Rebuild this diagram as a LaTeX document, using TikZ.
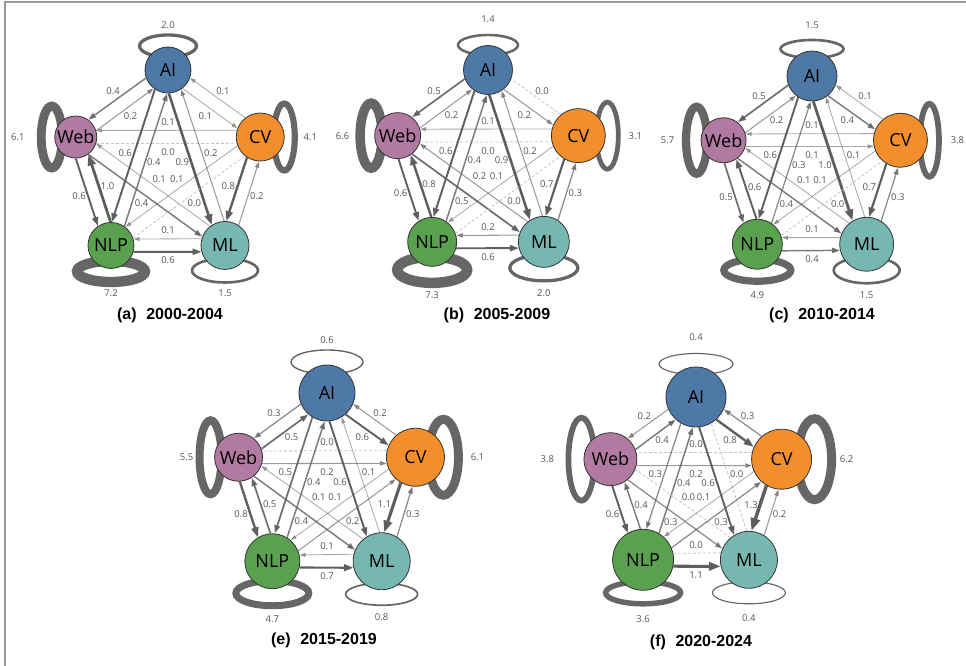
\documentclass[tikz,border=0pt]{standalone}
\usepackage{fontspec}
\setmainfont{Open Sans}
\newfontfamily\capfont{Liberation Sans}
\usetikzlibrary{calc,arrows.meta}
\pgfdeclarelayer{bg}
\pgfsetlayers{bg,main}
\definecolor{cAI}{HTML}{4E79A7}
\definecolor{cWeb}{HTML}{B07AA1}
\definecolor{cCV}{HTML}{F28E2B}
\definecolor{cNLP}{HTML}{59A14F}
\definecolor{cML}{HTML}{76B7B2}
\definecolor{egray}{HTML}{5E5E5E}
\definecolor{lgray}{HTML}{666666}
\definecolor{tgray}{HTML}{555555}
\definecolor{bgray}{HTML}{999999}
\definecolor{zgray}{HTML}{C4C4C4}
\tikzset{
  nd/.style={circle, draw=black!80, line width=0.8pt, inner sep=0pt,
    font=\fontsize{18}{18}\selectfont, text=black},
  edgeline/.style={draw=egray, -{Triangle[length=3.9pt 2.6, width=2.4pt 1.95]}},
  zeroedge/.style={draw=zgray, dash pattern=on 3pt off 2pt, line width=0.8pt},
  elab/.style={font=\fontsize{9.5}{9.5}\selectfont, text=tgray, inner sep=0pt},
  loopline/.style={draw=lgray},
  captext/.style={font=\capfont\bfseries\fontsize{16}{16}\selectfont, text=black}
}
\newcommand\mknode[5]{%
  \expandafter\def\csname r@#1\endcsname{#3}%
  \node[nd, fill=#4, minimum size={2*#3}] (#1) at (#2) {#5};}
\newcommand\dedge[3]{%
  \pgfmathsetmacro\elw{0.6+2.2*#3}%
  \pgfmathsetmacro\eop{min(1,0.45+0.9*#3)}%
  \pgfmathsetmacro\oa{asin(6.5/\csname r@#1\endcsname)}%
  \pgfmathsetmacro\ob{asin(6.5/\csname r@#2\endcsname)}%
  \ifdim #3pt=0pt
    \draw[zeroedge] let \p1=($(#2)-(#1)$), \n1={atan2(\y1,\x1)},
      \n2={\n1-\oa}, \n3={\n1+180+\ob} in (#1.\n2) -- (#2.\n3);
  \else
    \draw[edgeline, line width=\elw pt, opacity=\eop] let \p1=($(#2)-(#1)$),
      \n1={atan2(\y1,\x1)}, \n2={\n1-\oa}, \n3={\n1+180+\ob} in (#1.\n2) -- (#2.\n3);
  \fi
  \node[elab] at ($(#1)!0.5!(#2)!15pt!-90:(#2)$) {#3};}
\newcommand\selfloop[7]{%
  \pgfmathsetmacro\llw{0.6+1.35*#6}%
  \begin{pgfonlayer}{bg}
    \draw[loopline, line width=\llw pt] ($(#1)+(#2:#3)$) ellipse [x radius=#4, y radius=#5];
  \end{pgfonlayer}
  \node[elab] at ($(#1)+(#2:#7)$) {#6};}
\newcommand\edgesof[2]{\foreach \s/\t/\v in {#2} {\dedge{#1-\s}{#1-\t}{\v}}}
\newcommand\fivenodes[8]{% prefix, cx, cy, R, rAI, rWeb, rCV, rNLP ; rML via \rml
  \mknode{#1-AI}{$(#2,#3)+(90:#4)$}{#5}{cAI}{AI}
  \mknode{#1-Web}{$(#2,#3)+(162:#4)$}{#6}{cWeb}{Web}
  \mknode{#1-CV}{$(#2,#3)+(18:#4)$}{#7}{cCV}{CV}
  \mknode{#1-NLP}{$(#2,#3)+(234:#4)$}{#8}{cNLP}{NLP}
  \mknode{#1-ML}{$(#2,#3)+(306:#4)$}{\rml}{cML}{ML}}
\begin{document}
\begin{tikzpicture}[x=1pt,y=1pt]
\useasboundingbox (0,0) rectangle (966,666);
\draw[bgray, line width=1.2pt] (5,0) -- (5,664) -- (966,664);

% ---------- (a) 2000-2004 ----------
\def\rml{24}
\fivenodes{a}{168}{499}{97}{23}{21}{24}{23}
\selfloop{a-AI}{90}{24}{28.5}{11}{2.0}{45}
\selfloop{a-Web}{180}{24}{10.5}{31}{6.1}{58}
\selfloop{a-CV}{0}{24}{10.5}{33.5}{4.1}{50}
\selfloop{a-NLP}{270}{26}{34}{10.5}{7.2}{48}
\selfloop{a-ML}{270}{25}{33}{12}{1.5}{48}
\edgesof{a}{AI/Web/0.4, Web/AI/0.2, CV/AI/0.1, AI/CV/0.1, CV/Web/0.1, Web/CV/0.0,
  AI/NLP/0.6, NLP/AI/0.4, AI/ML/0.9, ML/AI/0.2, ML/Web/0.1, Web/ML/0.4,
  CV/NLP/0.1, NLP/CV/0.0, Web/NLP/0.6, NLP/Web/1.0, ML/NLP/0.1, NLP/ML/0.6,
  CV/ML/0.8, ML/CV/0.2}
\node[captext] (capa) at (170,351) {(a)\hspace{0.6em}2000-2004};

% ---------- (b) 2005-2009 ----------
\def\rml{25.5}
\fivenodes{b}{488}{501}{95}{24.5}{23}{27}{24.5}
\selfloop{b-AI}{90}{25}{30}{10}{1.4}{51}
\selfloop{b-Web}{180}{26.5}{11}{32.5}{6.6}{55}
\selfloop{b-CV}{0}{29}{11}{33.5}{3.1}{57}
\selfloop{b-NLP}{270}{28}{35}{13}{7.3}{53}
\selfloop{b-ML}{270}{26}{34}{13}{2.0}{51}
\edgesof{b}{AI/Web/0.5, Web/AI/0.2, CV/AI/0.0, AI/CV/0.2, CV/Web/0.1, Web/CV/0.0,
  AI/NLP/0.6, NLP/AI/0.4, AI/ML/0.9, ML/AI/0.2, ML/Web/0.2, Web/ML/0.5,
  CV/NLP/0.1, NLP/CV/0.0, Web/NLP/0.6, NLP/Web/0.8, ML/NLP/0.2, NLP/ML/0.6,
  CV/ML/0.7, ML/CV/0.3}
\node[captext] (capb) at (497,351) {(b)\hspace{0.6em}2005-2009};

% ---------- (c) 2010-2014 ----------
\def\rml{27}
\fivenodes{c}{812}{497}{93}{25}{22.5}{27}{25}
\selfloop{c-AI}{90}{27}{31.5}{9}{1.5}{51}
\selfloop{c-Web}{180}{27}{10.5}{33.5}{5.7}{56}
\selfloop{c-CV}{0}{29}{9.5}{36.5}{3.8}{57}
\selfloop{c-NLP}{270}{26}{33.5}{11}{4.9}{51}
\selfloop{c-ML}{270}{26}{33}{13}{1.5}{51}
\edgesof{c}{AI/Web/0.5, Web/AI/0.2, CV/AI/0.1, AI/CV/0.4, CV/Web/0.1, Web/CV/0.1,
  AI/NLP/0.6, NLP/AI/0.3, AI/ML/1.0, ML/AI/0.1, ML/Web/0.1, Web/ML/0.4,
  CV/NLP/0.1, NLP/CV/0.0, Web/NLP/0.5, NLP/Web/0.6, ML/NLP/0.1, NLP/ML/0.4,
  CV/ML/0.7, ML/CV/0.3}
\node[captext] (capc) at (822,351) {(c)\hspace{0.6em}2010-2014};

% ---------- (e) 2015-2019 ----------
\def\rml{28.5}
\fivenodes{e}{327}{180}{93}{28}{24}{29}{27.5}
\selfloop{e-AI}{90}{31}{36}{12}{0.6}{53}
\selfloop{e-Web}{180}{28}{11}{37}{5.5}{52}
\selfloop{e-CV}{0}{28}{15}{38}{6.1}{62}
\selfloop{e-NLP}{270}{32}{36.5}{12.5}{4.7}{58}
\selfloop{e-ML}{270}{33}{36}{11}{0.8}{56}
\edgesof{e}{AI/Web/0.3, Web/AI/0.5, CV/AI/0.2, AI/CV/0.6, CV/Web/0.0, Web/CV/0.2,
  AI/NLP/0.5, NLP/AI/0.4, AI/ML/0.6, ML/AI/0.1, ML/Web/0.1, Web/ML/0.4,
  CV/NLP/0.1, NLP/CV/0.2, Web/NLP/0.8, NLP/Web/0.5, ML/NLP/0.1, NLP/ML/0.7,
  CV/ML/1.1, ML/CV/0.3}
\node[captext] (cape) at (324,26) {(e)\hspace{0.6em}2015-2019};

% ---------- (f) 2020-2024 ----------
\def\rml{28.5}
\fivenodes{f}{696}{179}{90}{30}{26.5}{30}{30.5}
\selfloop{f-AI}{90}{33}{37}{10.5}{0.4}{60}
\selfloop{f-Web}{180}{29}{13}{41.5}{3.8}{63}
\selfloop{f-CV}{0}{33}{17}{40.5}{6.2}{65}
\selfloop{f-NLP}{270}{33}{37.5}{11}{3.6}{59}
\selfloop{f-ML}{270}{33}{36.5}{11}{0.4}{58}
\edgesof{f}{AI/Web/0.2, Web/AI/0.4, CV/AI/0.3, AI/CV/0.8, CV/Web/0.0, Web/CV/0.2,
  AI/NLP/0.3, NLP/AI/0.4, AI/ML/0.6, ML/AI/0.0, ML/Web/0.0, Web/ML/0.3,
  CV/NLP/0.1, NLP/CV/0.3, Web/NLP/0.6, NLP/Web/0.4, ML/NLP/0.0, NLP/ML/1.1,
  CV/ML/1.3, ML/CV/0.2}
\node[captext] (capf) at (701,24) {(f)\hspace{0.6em}2020-2024};
\end{tikzpicture}
\end{document}
